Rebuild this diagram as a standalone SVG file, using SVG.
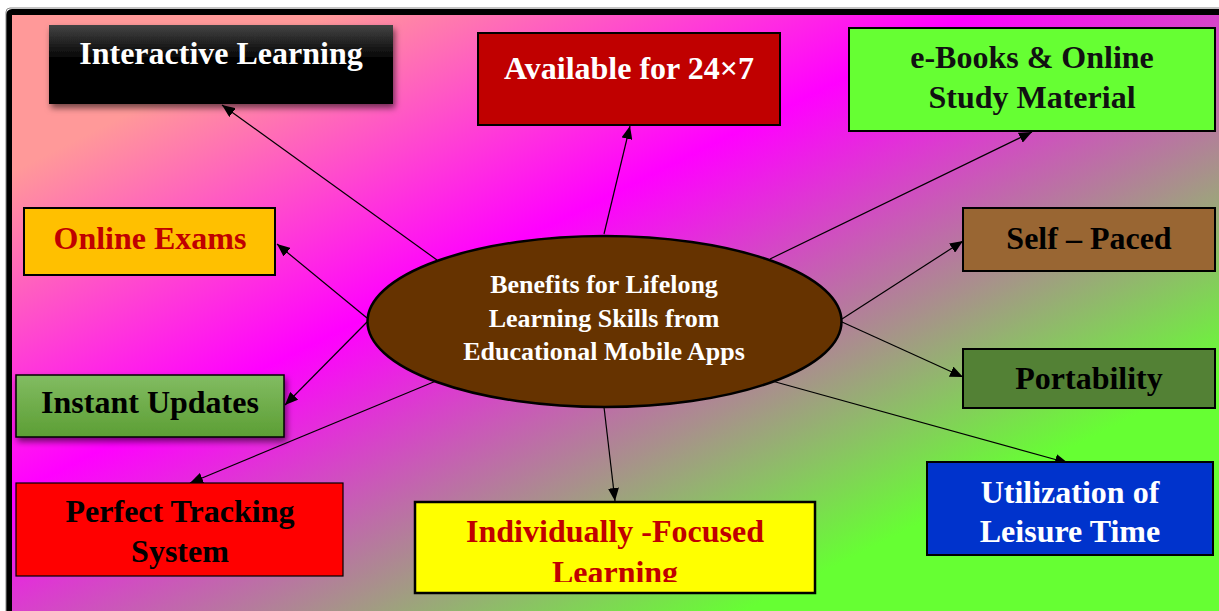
<svg xmlns="http://www.w3.org/2000/svg" width="1219" height="611" viewBox="0 0 1219 611">
<defs>
<linearGradient id="bg" x1="0" y1="0" x2="1" y2="1">
<stop offset="0" stop-color="#FF9999"/>
<stop offset="0.13" stop-color="#FF9999"/>
<stop offset="0.39" stop-color="#FF00FF"/>
<stop offset="0.78" stop-color="#66FF33"/>
<stop offset="1" stop-color="#66FF33"/>
</linearGradient>
<linearGradient id="blk" x1="0" y1="0" x2="0" y2="1">
<stop offset="0" stop-color="#444444"/>
<stop offset="0.45" stop-color="#000000"/>
<stop offset="1" stop-color="#000000"/>
</linearGradient>
<linearGradient id="grn" x1="0" y1="0" x2="0" y2="1">
<stop offset="0" stop-color="#82BC62"/>
<stop offset="1" stop-color="#5C9E34"/>
</linearGradient>
<filter id="sh" x="-10%" y="-20%" width="125%" height="150%">
<feGaussianBlur in="SourceAlpha" stdDeviation="3"/>
<feOffset dx="2" dy="4" result="b"/>
<feFlood flood-color="#000" flood-opacity="0.55"/>
<feComposite in2="b" operator="in"/>
<feMerge><feMergeNode/><feMergeNode in="SourceGraphic"/></feMerge>
</filter>
<marker id="arr" markerUnits="userSpaceOnUse" markerWidth="13" markerHeight="11" refX="13" refY="5.5" orient="auto">
<path d="M0,0 L13,5.5 L0,11 z" fill="#000"/>
</marker>
<clipPath id="clipInd"><rect x="415" y="501" width="401" height="81"/></clipPath>
</defs>
<style>
text{font-family:"Liberation Serif","Times New Roman",serif;font-weight:bold;font-size:32px;text-anchor:middle}
.c text{font-size:26px;fill:#fff}
.box{stroke:#000;stroke-width:2}
.con line{stroke:#000;stroke-width:1.2;marker-end:url(#arr)}
</style>
<rect x="0" y="0" width="1219" height="611" fill="#fff"/>
<rect x="9" y="12" width="1240" height="620" rx="3" fill="url(#bg)" stroke="#000" stroke-width="6"/>
<path d="M6,620 V12 Q6,8 10,8 H1219" fill="none" stroke="#888" stroke-width="1"/>

<g id="connectors" class="con">
<line x1="437" y1="260" x2="222" y2="105"/>
<line x1="604" y1="234" x2="630" y2="126"/>
<line x1="770" y1="259" x2="1032" y2="132"/>
<line x1="367" y1="318" x2="277" y2="244"/>
<line x1="367" y1="322" x2="285" y2="405"/>
<line x1="842" y1="319" x2="963" y2="241"/>
<line x1="842" y1="322" x2="963" y2="377"/>
<line x1="436" y1="381" x2="190" y2="483"/>
<line x1="604" y1="407" x2="615" y2="501"/>
<line x1="772" y1="381" x2="1068" y2="463"/>
</g>

<g id="center" class="c">
<ellipse cx="604.5" cy="321.5" rx="237" ry="85.5" fill="#663300" stroke="#000" stroke-width="2.5"/>
<text x="604" y="293">Benefits for Lifelong</text>
<text x="604" y="327">Learning Skills from</text>
<text x="604" y="360">Educational Mobile Apps</text>
</g>

<g id="n-interactive">
<rect x="49" y="25" width="344" height="79" fill="url(#blk)" filter="url(#sh)"/>
<text x="221" y="64" fill="#fff">Interactive Learning</text>
</g>
<g id="n-available">
<rect class="box" x="478" y="33" width="302" height="92" fill="#C00000"/>
<text x="629" y="79" fill="#fff">Available for 24×7</text>
</g>
<g id="n-ebooks">
<rect class="box" x="849" y="28" width="366" height="103" fill="#66FF33"/>
<text x="1032" y="68" fill="#111">e-Books &amp; Online</text>
<text x="1032" y="108" fill="#111">Study Material</text>
</g>
<g id="n-exams">
<rect class="box" x="24" y="208" width="251" height="67" fill="#FFC000"/>
<text x="150" y="249" fill="#C00000">Online Exams</text>
</g>
<g id="n-selfpaced">
<rect class="box" x="963" y="208" width="252" height="63" fill="#996633"/>
<text x="1089" y="249" fill="#000">Self – Paced</text>
</g>
<g id="n-updates">
<rect x="16" y="375" width="268" height="62" fill="url(#grn)" stroke="#000" stroke-width="1.5" filter="url(#sh)"/>
<text x="150" y="413" fill="#000">Instant Updates</text>
</g>
<g id="n-portability">
<rect class="box" x="963" y="349" width="252" height="59" fill="#538135"/>
<text x="1089" y="389" fill="#000">Portability</text>
</g>
<g id="n-tracking">
<rect x="16" y="483" width="327" height="93" fill="#FF0000" stroke="#000" stroke-width="1.2"/>
<text x="180" y="522" fill="#000">Perfect Tracking</text>
<text x="180" y="562" fill="#000">System</text>
</g>
<g id="n-individual">
<rect x="415" y="502" width="400" height="91" fill="#FFFF00" stroke="#000" stroke-width="2.5"/>
<g clip-path="url(#clipInd)">
<text x="615" y="542" fill="#C00000">Individually -Focused</text>
<text x="615" y="583" fill="#C00000">Learning</text>
</g>
</g>
<g id="n-leisure">
<rect class="box" x="927" y="462" width="286" height="93" fill="#0033CC" stroke-width="2.5"/>
<text x="1070" y="503" fill="#fff">Utilization of</text>
<text x="1070" y="542" fill="#fff">Leisure Time</text>
</g>
</svg>
